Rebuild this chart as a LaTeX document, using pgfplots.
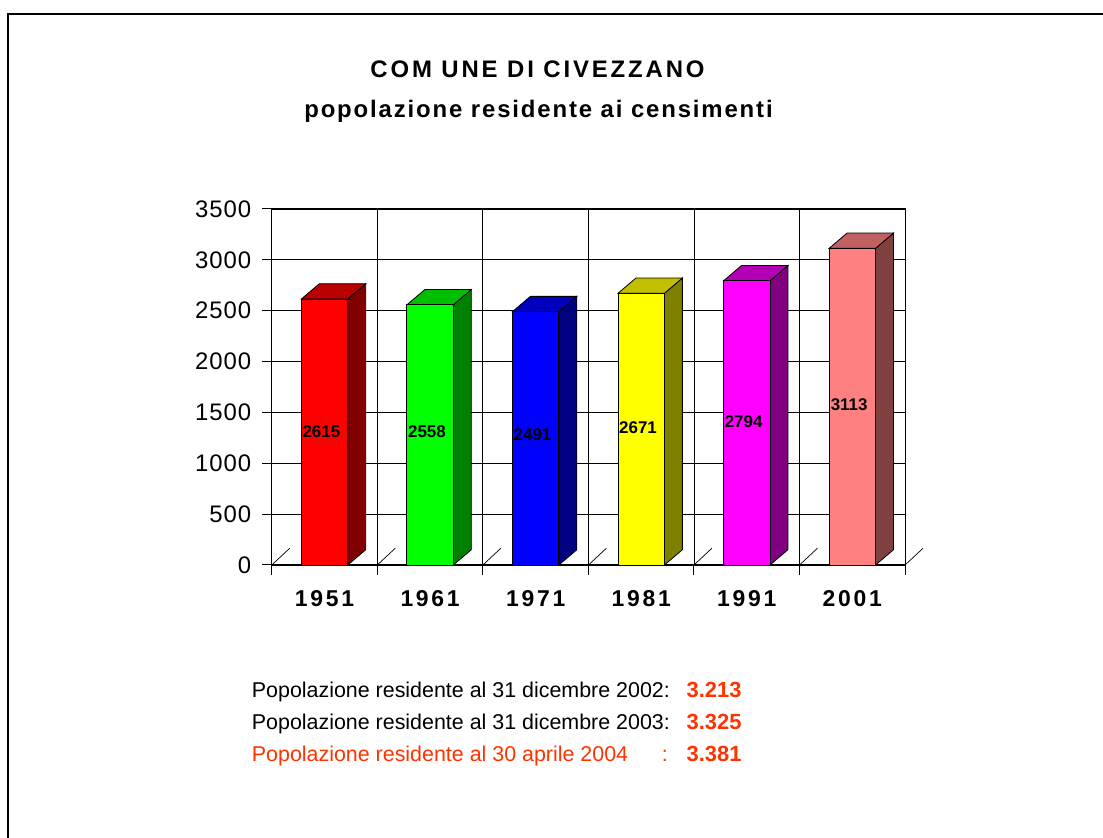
\documentclass[border=0pt]{standalone}
\usepackage{pgfplots}
\pgfplotsset{compat=1.18}
\usepackage{fontspec}
\setmainfont{Liberation Sans}
\newfontfamily\titleAfont[LetterSpace=12]{Liberation Sans}
\newfontfamily\titleBfont[LetterSpace=7.8]{Liberation Sans}
\newfontfamily\tickfont[LetterSpace=12]{Liberation Sans}
\newfontfamily\ytickfont[LetterSpace=4]{Liberation Sans}
\definecolor{txtred}{RGB}{255,51,0}
\definecolor{rF}{RGB}{255,0,0}\definecolor{rS}{RGB}{128,0,0}\definecolor{rT}{RGB}{184,0,0}
\definecolor{gF}{RGB}{0,255,0}\definecolor{gS}{RGB}{0,128,0}\definecolor{gT}{RGB}{0,190,0}
\definecolor{bF}{RGB}{0,0,255}\definecolor{bS}{RGB}{0,0,128}\definecolor{bT}{RGB}{0,0,190}
\definecolor{yF}{RGB}{255,255,0}\definecolor{yS}{RGB}{128,128,0}\definecolor{yT}{RGB}{192,192,0}
\definecolor{mF}{RGB}{255,0,255}\definecolor{mS}{RGB}{128,0,128}\definecolor{mT}{RGB}{180,0,180}
\definecolor{pF}{RGB}{255,128,128}\definecolor{pS}{RGB}{128,64,64}\definecolor{pT}{RGB}{192,96,96}
\begin{document}
\begin{tikzpicture}[x=1bp,y=1bp]
\path[use as bounding box, fill=white] (0,0) rectangle (1103,838);
\draw[line width=2bp] (8,0) -- (8,824) -- (1103,824);
\begin{axis}[
  at={(307.5,268.4)}, anchor=origin, scale only axis,
  width=633.3bp, height=356bp,
  xmin=-0.5, xmax=5.5, ymin=0, ymax=3500,
  clip=false,
  axis line style={black, line width=1bp},
  xtick={-0.5,0.5,1.5,2.5,3.5,4.5,5.5}, xticklabels={},
  extra x ticks={0,1,2,3,4,5},
  extra x tick labels={1951,1961,1971,1981,1991,2001},
  extra x tick style={grid=none, major tick length=0pt,
     xticklabel style={font=\tickfont\bfseries\fontsize{23}{23}\selectfont, yshift=-22bp}},
  ytick={0,500,1000,1500,2000,2500,3000,3500},
  yticklabels={0,500,1000,1500,2000,2500,3000,3500},
  yticklabel style={font=\ytickfont\fontsize{24}{24}\selectfont, xshift=-7bp},
  xmajorgrids, ymajorgrids,
  grid style={black, line width=0.8bp},
  tick align=outside, major tick length=10bp, tick pos=left,
  tick style={black, line width=1bp},
]
% floor diagonals
\addplot[black, line width=0.7bp] coordinates {(-0.5,0) (-0.33,165)};
\addplot[black, line width=0.7bp] coordinates {(0.5,0) (0.67,165)};
\addplot[black, line width=0.7bp] coordinates {(1.5,0) (1.67,165)};
\addplot[black, line width=0.7bp] coordinates {(2.5,0) (2.67,165)};
\addplot[black, line width=0.7bp] coordinates {(3.5,0) (3.67,165)};
\addplot[black, line width=0.7bp] coordinates {(4.5,0) (4.67,165)};
\addplot[black, line width=0.7bp] coordinates {(5.5,0) (5.67,165)};
% 1951 : 2615
\addplot[fill=rS, draw=black, line width=0.8bp] coordinates {(0.22,0) (0.39,150) (0.39,2765) (0.22,2615)} -- cycle;
\addplot[fill=rT, draw=black, line width=0.8bp] coordinates {(-0.22,2615) (-0.05,2765) (0.39,2765) (0.22,2615)} -- cycle;
\addplot[ybar, bar shift=0pt, bar width=0.44, fill=rF, draw=black, line width=0.8bp] coordinates {(0,2615)};
% 1961 : 2558
\addplot[fill=gS, draw=black, line width=0.8bp] coordinates {(1.22,0) (1.39,150) (1.39,2708) (1.22,2558)} -- cycle;
\addplot[fill=gT, draw=black, line width=0.8bp] coordinates {(0.78,2558) (0.95,2708) (1.39,2708) (1.22,2558)} -- cycle;
\addplot[ybar, bar shift=0pt, bar width=0.44, fill=gF, draw=black, line width=0.8bp] coordinates {(1,2558)};
% 1971 : 2491
\addplot[fill=bS, draw=black, line width=0.8bp] coordinates {(2.22,0) (2.39,150) (2.39,2641) (2.22,2491)} -- cycle;
\addplot[fill=bT, draw=black, line width=0.8bp] coordinates {(1.78,2491) (1.95,2641) (2.39,2641) (2.22,2491)} -- cycle;
\addplot[ybar, bar shift=0pt, bar width=0.44, fill=bF, draw=black, line width=0.8bp] coordinates {(2,2491)};
% 1981 : 2671
\addplot[fill=yS, draw=black, line width=0.8bp] coordinates {(3.22,0) (3.39,150) (3.39,2821) (3.22,2671)} -- cycle;
\addplot[fill=yT, draw=black, line width=0.8bp] coordinates {(2.78,2671) (2.95,2821) (3.39,2821) (3.22,2671)} -- cycle;
\addplot[ybar, bar shift=0pt, bar width=0.44, fill=yF, draw=black, line width=0.8bp] coordinates {(3,2671)};
% 1991 : 2794
\addplot[fill=mS, draw=black, line width=0.8bp] coordinates {(4.22,0) (4.39,150) (4.39,2944) (4.22,2794)} -- cycle;
\addplot[fill=mT, draw=black, line width=0.8bp] coordinates {(3.78,2794) (3.95,2944) (4.39,2944) (4.22,2794)} -- cycle;
\addplot[ybar, bar shift=0pt, bar width=0.44, fill=mF, draw=black, line width=0.8bp] coordinates {(4,2794)};
% 2001 : 3113
\addplot[fill=pS, draw=black, line width=0.8bp] coordinates {(5.22,0) (5.39,150) (5.39,3263) (5.22,3113)} -- cycle;
\addplot[fill=pT, draw=black, line width=0.8bp] coordinates {(4.78,3113) (4.95,3263) (5.39,3263) (5.22,3113)} -- cycle;
\addplot[ybar, bar shift=0pt, bar width=0.44, fill=pF, draw=black, line width=0.8bp] coordinates {(5,3113)};
% value labels
\addplot[only marks, mark=none, nodes near coords, point meta=explicit symbolic,
  every node near coord/.append style={anchor=center, font=\bfseries\fontsize{17}{17}\selectfont}]
  coordinates {(-0.03,1310)[2615] (0.97,1310)[2558] (1.97,1280)[2491] (2.97,1350)[2671] (3.97,1410)[2794] (4.97,1580)[3113]};
\end{axis}
% title
\node[font=\titleAfont\bfseries\fontsize{24}{24}\selectfont, anchor=base] at (537.5,760) {COM UNE DI CIVEZZANO};
\node[font=\titleBfont\bfseries\fontsize{24}{24}\selectfont, anchor=base] at (538.5,720) {popolazione residente ai censimenti};
% bottom text
\node[font=\fontsize{21.5}{21.5}\selectfont, anchor=base west, inner sep=0pt] at (251.7,140.7) {Popolazione residente al 31 dicembre 2002:};
\node[font=\fontsize{21.5}{21.5}\selectfont, anchor=base west, inner sep=0pt] at (251.7,108.7) {Popolazione residente al 31 dicembre 2003:};
\node[font=\fontsize{21.5}{21.5}\selectfont, anchor=base west, inner sep=0pt, text=txtred] at (251.7,76.7) {Popolazione residente al 30 aprile 2004};
\node[font=\fontsize{21.5}{21.5}\selectfont, anchor=base west, inner sep=0pt, text=txtred] at (661.7,76.7) {:};
\node[font=\bfseries\fontsize{22}{22}\selectfont, anchor=base east, inner sep=0pt, text=txtred] at (741.7,140.7) {3.213};
\node[font=\bfseries\fontsize{22}{22}\selectfont, anchor=base east, inner sep=0pt, text=txtred] at (741.7,108.7) {3.325};
\node[font=\bfseries\fontsize{22}{22}\selectfont, anchor=base east, inner sep=0pt, text=txtred] at (741.7,76.7) {3.381};
\end{tikzpicture}
\end{document}
